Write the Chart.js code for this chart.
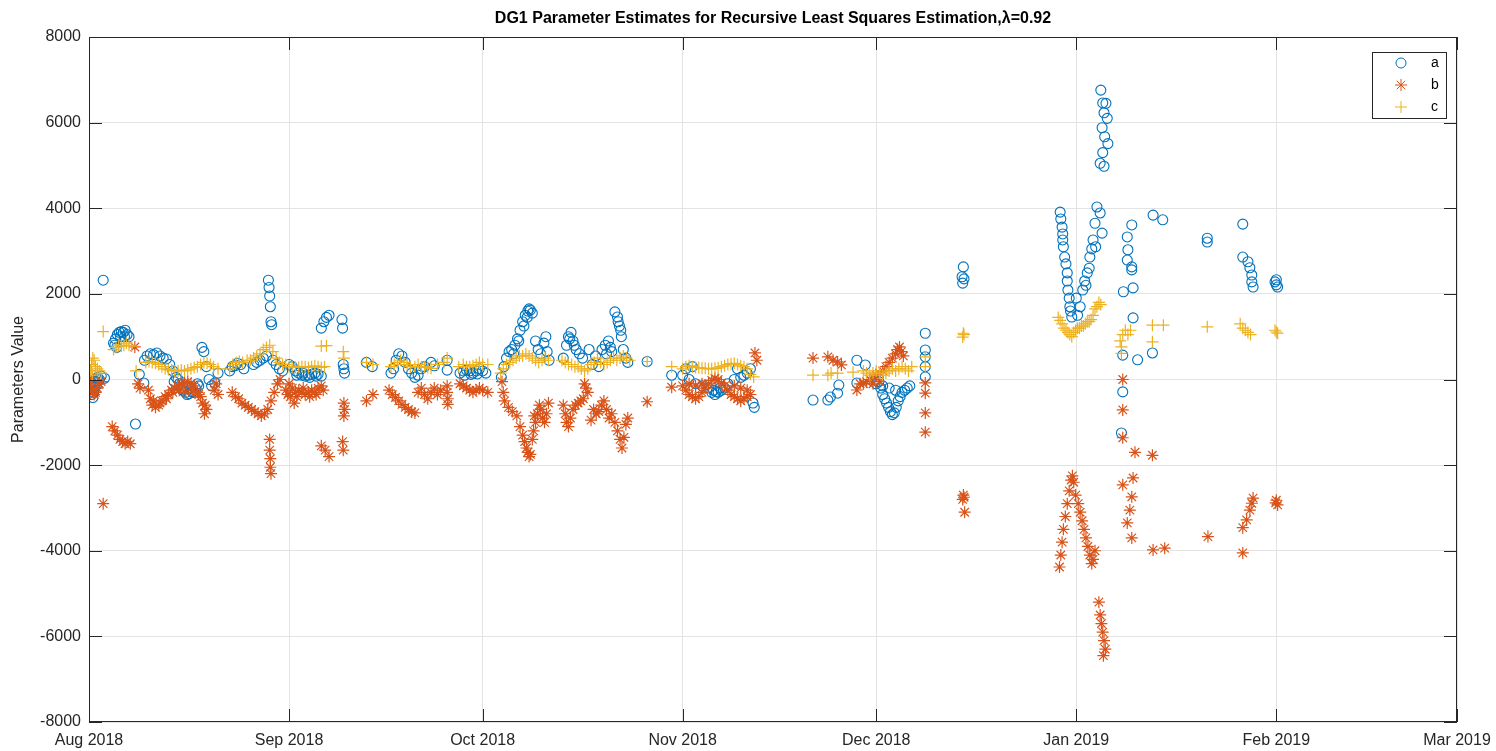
<!DOCTYPE html>
<html lang="en">
<head>
    <meta charset="UTF-8" />
    <title>DG1 Parameter Estimates</title>
    <script src="https://cdn.jsdelivr.net/npm/chart.js"></script>
    <style>
        body { margin: 0; background: #fff; }
        #rlsChart { display: block; }
    </style>
</head>
<body>
<canvas id="rlsChart" width="1496" height="751"></canvas>

<script>
    // x values are days since 1 Aug 2018
    const monthTicks = [0, 31, 61, 92, 122, 153, 184, 212];
    const monthLabels = ['Aug 2018', 'Sep 2018', 'Oct 2018', 'Nov 2018', 'Dec 2018', 'Jan 2019', 'Feb 2019', 'Mar 2019'];

    // [day, value]
    const seriesA = [
        [0.2,-150],[0.4,-350],[0.6,-420],[0.8,-250],[1.0,-50],[1.3,50],[1.6,0],[1.9,80],[2.2,2320],[2.4,30],
        [0.3,-50],[0.7,-300],[1.1,-150],[1.5,-30],
        [3.8,850],[4.1,950],[4.4,1050],[4.7,1100],[5.0,1120],[5.3,1100],[5.6,1150],[5.9,1050],[6.2,1000],[4.3,750],
        [4.0,800],[4.9,1000],[5.5,1000],
        [7.2,-1040],[7.8,120],[8.5,-80],
        [8.6,450],[9.0,550],[9.5,600],[10.0,580],[10.5,620],[11.0,550],[11.5,500],[12.0,480],
        [12.5,350],[13.0,200],[13.5,50],[14.0,-100],[14.5,-250],[15.0,-300],[15.5,-330],[16.0,-280],[16.5,-200],[17.0,-150],
        [13.2,-50],[13.8,0],[14.2,-200],[15.2,-350],[15.8,-200],[16.2,-300],[16.8,-100],
        [17.5,750],[17.8,650],[18.2,300],[18.6,0],[19.0,-150],[19.5,-80],[20.0,150],
        [21.8,200],[22.2,300],[22.6,320],[23.0,380],[23.5,350],[24.0,250],
        [25.5,350],[26.0,400],[26.5,450],[27.0,500],[27.5,550],[27.8,2320],[27.9,2150],[28.0,1950],[28.1,1700],[28.2,1350],[28.3,1280],
        [28.5,450],[29.0,350],[29.5,250],[30.0,200],
        [31.0,350],[31.5,300],[32.0,200],[32.5,150],[33.0,100],[33.5,80],[34.0,100],[34.5,120],[35.0,150],[35.5,120],[36.0,80],
        [32.2,100],[33.2,150],[34.2,50],[35.2,80],
        [36.0,1200],[36.4,1350],[36.8,1450],[37.2,1500],[39.2,1400],[39.3,1200],
        [39.4,350],[39.5,250],[39.6,150],[43.0,400],[43.9,300],
        [46.8,150],[47.2,250],[47.6,450],[48.0,600],[48.5,550],[49.0,400],[49.5,250],[50.0,150],[50.5,50],[51.0,100],
        [51.5,250],[52.0,300],[53.0,400],[53.5,320],[55.5,450],[55.5,220],
        [57.5,150],[58.0,200],[58.5,220],[59.0,200],[59.5,150],[60.0,200],[60.5,250],[61.0,200],[61.5,150],
        [58.2,100],[59.2,120],[60.2,130],
        [63.9,50],[64.3,300],[64.7,500],[65.1,650],[65.5,700],[66.0,800],[66.4,950],[66.8,1150],[67.2,1350],[67.6,1500],
        [68.0,1600],[68.4,1620],[68.7,1550],[69.2,900],[69.6,700],[70.0,600],[70.5,850],[70.8,1000],[71.0,650],[71.3,450],
        [65.8,600],[66.6,900],[67.4,1250],[67.9,1450],[68.2,1650],
        [73.5,500],[74.0,800],[74.3,1000],[74.7,1100],[75.0,900],[75.5,700],[76.0,600],[76.5,500],[77.5,700],[78.5,550],
        [79.5,700],[80.0,800],[80.5,900],[81.0,650],[81.5,1580],[81.9,1460],[82.2,1250],[82.5,1000],[82.8,700],[83.2,500],
        [83.5,400],[79.0,300],[78.0,350],[86.5,420],
        [74.5,950],[75.2,800],[80.2,600],[80.8,750],[82.0,1350],[82.4,1150],
        [90.3,100],[92.0,100],[92.5,250],[93.0,0],[93.5,300],[94.0,-100],[95.0,-150],[96.0,-200],[96.5,-300],[97.0,-350],
        [97.5,-300],[98.0,-250],[98.5,-200],[99.0,-100],[100.0,0],[100.5,250],[101.0,50],[101.5,100],[102.0,150],[102.5,250],
        [96.8,-250],[97.2,-280],[97.8,-200],
        [102.9,-550],[103.1,-650],
        [112.2,-480],[114.5,-480],[114.9,-410],[116.0,-320],[116.2,-130],[119.0,450],[119.0,-80],[120.3,340],
        [122.0,-100],[122.4,-50],[122.7,-200],[123.0,-350],[123.3,-450],[123.6,-550],[123.9,-650],[124.2,-750],[124.5,-820],
        [124.8,-780],[125.1,-650],[125.4,-500],[125.7,-400],[126.0,-300],[126.4,-250],[126.8,-200],[127.2,-150],
        [123.0,-150],[124.0,-200],[125.0,-250],
        [129.6,1080],[129.6,690],[129.6,530],[129.6,300],[129.6,60],
        [135.5,2630],[135.3,2400],[135.4,2250],[135.6,2350],
        [150.5,3910],[150.8,3560],[150.9,3260],[151.2,2860],[151.6,2490],[151.7,2090],[152.0,1700],[152.3,1460],
        [150.6,3750],[150.9,3400],[151.0,3100],[151.4,2700],[151.6,2300],[151.9,1900],[152.1,1600],
        [153.2,1500],[153.6,1700],[154.0,2090],[154.3,2300],[154.7,2490],[155.1,2860],[155.4,3050],[155.6,3260],
        [155.9,3650],[156.2,4030],[156.7,3890],[157.0,3420],[153.0,1900],[154.5,2200],[155.0,2600],[156.0,3100],
        [156.8,6760],[157.1,6460],[157.6,6450],[157.3,6230],[157.8,6100],[157.0,5880],[157.4,5670],[157.9,5510],
        [157.1,5300],[156.7,5050],[157.3,4980],
        [161.6,3610],[160.9,3330],[161.0,3030],[160.9,2790],[161.6,2630],[161.6,2560],[160.3,2050],[161.8,2140],[161.8,1440],
        [164.9,3840],[166.4,3730],
        [160.2,570],[162.5,460],[164.8,620],[160.2,-290],[160.0,-1250],
        [173.3,3300],[173.3,3210],[178.8,3630],[178.8,2860],[179.6,2750],[179.9,2610],[180.2,2440],[180.2,2280],[180.4,2160],
        [184.0,2330],[184.0,2210],[184.2,2160],[183.8,2280]
    ];

    const seriesB = [
        [0.2,-100],[0.4,-200],[0.6,-300],[0.8,-350],[1.0,-300],[1.3,-200],[1.6,-100],[1.9,-50],[0.5,50],[2.2,-2900],
        [3.6,-1100],[4.0,-1200],[4.4,-1300],[4.8,-1400],[5.2,-1450],[5.6,-1500],[6.0,-1450],[6.4,-1500],[7.1,760],
        [7.6,-100],[7.9,-200],
        [9.2,-250],[9.5,-450],[9.8,-600],[10.3,-650],[10.8,-600],[11.3,-500],[11.8,-400],[12.3,-350],[12.8,-250],[13.3,-200],
        [13.8,-150],[14.3,-100],[14.8,-80],[15.3,-50],[15.8,-100],[16.3,-150],[16.8,-300],[17.3,-400],[17.6,-550],[17.9,-800],
        [18.2,-700],[19.4,-250],[19.7,-100],[20.0,-350],[14.0,-250],[15.0,-300],
        [10.0,-500],[11.0,-550],[12.0,-450],[13.0,-300],[16.0,-250],[17.0,-350],[18.0,-600],
        [22.2,-300],[22.7,-400],[23.2,-450],[23.7,-550],[24.2,-600],[24.7,-650],[25.2,-700],[25.7,-750],[26.2,-800],[26.7,-850],
        [27.2,-800],[27.7,-700],[28.2,-500],[28.7,-300],[29.2,-100],[29.6,0],
        [28.0,-1400],[28.0,-1650],[28.1,-1850],[28.1,-2050],[28.2,-2200],
        [30.5,-250],[31.0,-100],[31.2,-400],[31.5,-200],[31.8,-550],[32.0,-300],[32.5,-250],[33.0,-300],[33.5,-350],[34.0,-300],
        [34.5,-250],[35.0,-300],[35.5,-200],[36.0,-150],
        [30.8,-350],[32.2,-400],[33.2,-200],[34.2,-400],[35.2,-350],[36.3,-250],
        [36.0,-1550],[36.6,-1650],[37.2,-1800],
        [39.3,-1450],[39.4,-1650],[39.5,-550],[39.6,-700],[39.5,-850],[43.0,-500],[44.0,-350],
        [46.5,-250],[47.0,-350],[47.5,-420],[48.0,-500],[48.5,-580],[49.0,-650],[49.5,-700],[50.0,-760],[50.5,-780],
        [51.0,-300],[51.5,-200],[52.0,-350],[52.5,-450],[53.0,-300],[53.5,-200],[54.0,-350],[54.5,-250],
        [55.5,-150],[55.5,-300],[55.6,-450],[55.6,-580],
        [57.5,-100],[58.0,-150],[58.5,-200],[59.0,-250],[59.5,-300],[60.0,-250],[60.5,-200],[61.0,-250],[61.8,-300],
        [64.0,-50],[64.2,-300],[64.4,-500],[65.0,-650],[65.6,-750],[66.3,-850],[66.8,-1100],[67.2,-1300],[67.5,-1450],
        [67.8,-1600],[68.0,-1700],[68.2,-1800],[68.4,-1750],[68.7,-1400],[68.9,-1200],[69.2,-1000],[69.5,-800],[69.8,-600],
        [70.0,-700],[70.3,-900],[70.6,-1000],[70.9,-800],[71.2,-550],[69.0,-850],
        [73.5,-600],[73.8,-800],[74.0,-1000],[74.3,-1100],[74.6,-900],[75.0,-700],[75.4,-600],[75.8,-550],[76.2,-500],
        [76.6,-450],[76.8,-100],[77.0,-200],[77.3,-300],
        [77.8,-950],[78.2,-700],[78.6,-800],[79.0,-750],[79.4,-600],[79.8,-500],[80.2,-700],[80.6,-900],[81.0,-800],
        [81.5,-1000],[81.9,-1200],[82.3,-1400],[82.6,-1600],[82.9,-1350],[83.2,-1050],[83.5,-900],
        [86.5,-520],[90.3,-180],
        [92.0,-150],[92.5,-250],[93.0,-350],[93.5,-400],[94.0,-450],[94.5,-400],[95.0,-300],[95.5,-200],[96.0,-100],
        [96.5,-20],[97.0,30],[97.5,0],[98.0,-80],[98.5,-150],[99.0,-250],[99.5,-350],[100.0,-400],[100.5,-450],
        [101.0,-500],[101.5,-450],[102.0,-400],[102.5,-350],[93.0,-100],[94.0,-150],[95.0,-100],[100.0,-150],
        [101.0,-200],[102.0,-250],[103.2,620],[103.5,450],
        [112.2,500],[114.5,530],[115.3,450],[116.0,410],[116.6,340],[119.0,-245],[119.5,-100],
        [120.0,-100],[120.5,-50],[121.0,0],[121.5,50],[122.0,100],[122.5,150],[123.0,200],[123.5,300],[124.0,400],
        [124.5,500],[125.0,600],[125.3,700],[125.6,760],[125.9,650],[126.2,550],[121.5,-100],[122.5,-50],
        [129.6,-80],[129.6,-320],[129.6,-780],[129.6,-1230],
        [135.4,-2800],[135.5,-2700],[135.6,-2750],[135.7,-3100],
        [150.4,-4380],[150.6,-4100],[150.8,-3800],[151.0,-3500],[151.3,-3200],[151.6,-2900],[151.9,-2600],[152.2,-2350],
        [152.4,-2250],[152.6,-2400],[152.9,-2700],
        [153.3,-2900],[153.6,-3100],[153.9,-3300],[154.2,-3500],[154.5,-3700],[154.8,-3900],[155.1,-4100],[155.4,-4300],
        [155.6,-4200],[155.9,-4000],
        [156.5,-5200],[156.7,-5500],[156.9,-5700],[157.1,-5900],[157.3,-6100],[157.5,-6300],[157.2,-6450],
        [160.2,0],[160.2,-710],[160.2,-1360],[162.1,-1700],[164.8,-1770],[160.2,-2460],[161.8,-2300],[161.6,-2740],
        [161.3,-3050],[160.9,-3350],[161.6,-3700],[164.9,-3980],[166.7,-3940],
        [173.4,-3670],[178.8,-4050],[178.8,-3460],[179.4,-3280],[179.9,-3050],[180.2,-2890],[180.4,-2770],
        [184.0,-2820],[184.2,-2930],[183.9,-2880]
    ];

    const seriesC = [
        [0.2,200],[0.4,350],[0.6,500],[0.8,450],[1.0,300],[1.3,250],[1.6,200],[1.9,150],[0.5,100],[2.2,1120],
        [3.8,700],[4.2,750],[4.6,800],[5.0,780],[5.4,800],[5.8,850],[6.2,800],[6.6,780],[7.3,200],
        [8.8,400],[9.3,420],[9.8,400],[10.3,380],[10.8,350],[11.3,300],[11.8,250],[12.3,230],[12.8,220],[13.3,200],
        [13.8,200],[14.3,220],[14.8,200],[15.3,220],[15.8,250],[16.3,280],[16.8,300],[17.3,350],[17.8,400],[18.3,380],
        [18.8,350],[19.3,300],[20.0,250],
        [21.8,250],[22.3,350],[22.8,400],[23.3,420],[23.8,400],[24.5,450],[25.0,450],[25.5,500],[26.0,550],[26.5,600],
        [27.0,700],[27.5,750],[28.0,800],[28.5,650],[29.0,500],[29.5,400],[30.0,350],[30.5,350],
        [31.0,300],[31.5,300],[32.0,280],[32.5,280],[33.0,300],[33.5,300],[34.0,280],[34.5,300],[35.0,320],[35.5,300],
        [36.0,280],[36.5,300],[36.0,780],[36.8,790],[39.4,650],[39.5,500],[43.0,400],[44.0,350],
        [46.8,300],[47.3,350],[47.8,400],[48.3,450],[48.8,400],[49.3,350],[49.8,300],[50.5,300],[51.0,350],[51.5,300],
        [52.0,300],[52.5,280],[53.0,260],[54.0,350],[55.0,400],[55.5,500],
        [57.3,300],[58.0,350],[58.5,300],[59.0,300],[59.5,320],[60.0,350],[60.5,400],[61.0,350],[61.8,350],
        [63.8,150],[64.2,250],[64.7,350],[65.2,400],[65.7,450],[66.2,500],[66.7,550],[67.2,550],[67.7,600],[68.2,550],
        [68.7,500],[69.2,450],[69.7,400],[70.2,450],[70.7,500],[71.2,450],
        [73.3,450],[73.8,400],[74.3,350],[74.8,350],[75.3,300],[75.8,300],[76.3,250],[76.8,200],[77.3,250],[77.8,350],
        [78.3,400],[78.8,500],[79.3,400],[79.8,350],[80.3,400],[80.8,450],[81.3,500],[81.8,450],[82.3,500],[82.8,550],
        [83.3,500],[83.8,450],[86.5,420],[90.3,300],
        [92.0,250],[92.5,300],[93.0,320],[93.5,300],[94.0,280],[94.5,280],[95.0,260],[95.5,260],[96.0,250],[96.5,250],
        [97.0,260],[97.5,270],[98.0,300],[98.5,320],[99.0,350],[99.5,370],[100.0,380],[100.5,350],[101.0,320],[101.5,300],
        [102.0,250],[102.5,120],[103.0,60],
        [112.2,100],[114.5,100],[115.0,150],[116.0,150],[118.4,170],[120.0,200],[120.5,150],[121.0,100],[121.5,150],
        [122.0,200],[122.5,150],[123.0,100],[123.5,150],[124.0,200],[124.5,250],[125.0,200],[125.5,250],[126.0,300],
        [126.5,250],[127.0,200],[127.5,300],[129.6,530],[129.6,300],
        [135.5,1080],[135.4,990],[135.6,1050],
        [150.2,1450],[150.5,1380],[150.8,1300],[151.1,1200],[151.4,1150],[151.7,1100],[152.0,1050],[152.3,1000],
        [152.6,1100],[152.9,1150],[153.2,1200],[153.5,1200],[153.8,1250],[154.1,1250],[154.4,1300],[154.7,1350],
        [155.0,1350],[155.3,1400],[155.6,1500],[155.9,1650],[156.2,1700],[156.5,1800],[156.8,1750],
        [159.8,900],[160.2,1050],[160.6,1150],[161.0,1050],[161.4,1150],[160.0,610],[160.0,760],[164.8,1270],[166.5,1270],
        [164.8,880],
        [173.3,1230],[178.4,1300],[178.8,1200],[179.2,1150],[179.6,1100],[180.0,1050],[184.0,1110],[183.8,1150],[184.2,1080]
    ];

    const COLOR_A = '#0072BD';
    const COLOR_B = '#D95319';
    const COLOR_C = '#EDB120';
    const AXIS_COLOR = '#262626';
    const FONT = '"Liberation Sans", Arial, Helvetica, sans-serif';

    const toPoints = arr => arr.map(p => ({ x: p[0], y: p[1] }));

    // box, inward ticks, title, y label and legend, MATLAB style
    const matlabAxes = {
        id: 'matlabAxes',
        afterDraw(chart) {
            const { ctx, chartArea: area, scales } = chart;
            ctx.save();
            ctx.strokeStyle = AXIS_COLOR;
            ctx.lineWidth = 1;
            ctx.strokeRect(area.left + 0.5, area.top + 0.5, area.right - area.left - 1, area.bottom - area.top - 1);

            const tickLen = 13;
            ctx.beginPath();
            scales.x.ticks.forEach(t => {
                const px = Math.round(scales.x.getPixelForValue(t.value)) + 0.5;
                ctx.moveTo(px, area.bottom); ctx.lineTo(px, area.bottom - tickLen);
                ctx.moveTo(px, area.top); ctx.lineTo(px, area.top + tickLen);
            });
            scales.y.ticks.forEach(t => {
                const py = Math.round(scales.y.getPixelForValue(t.value)) + 0.5;
                ctx.moveTo(area.left, py); ctx.lineTo(area.left + tickLen, py);
                ctx.moveTo(area.right, py); ctx.lineTo(area.right - tickLen, py);
            });
            ctx.stroke();

            // title
            ctx.fillStyle = '#000';
            ctx.font = 'bold 16px ' + FONT;
            ctx.textAlign = 'center';
            ctx.textBaseline = 'middle';
            ctx.fillText('DG1 Parameter Estimates for Recursive Least Squares Estimation,\u03bb=0.92',
                (area.left + area.right) / 2, 19);

            // y axis label
            ctx.save();
            ctx.translate(19, (area.top + area.bottom) / 2);
            ctx.rotate(-Math.PI / 2);
            ctx.fillStyle = AXIS_COLOR;
            ctx.font = '16px ' + FONT;
            ctx.fillText('Parameters Value', 0, 0);
            ctx.restore();

            // legend
            const lx = 1372, ly = 52, lw = 74, lh = 66;
            ctx.fillStyle = '#fff';
            ctx.fillRect(lx, ly, lw, lh);
            ctx.strokeStyle = AXIS_COLOR;
            ctx.strokeRect(lx + 0.5, ly + 0.5, lw, lh);
            const entries = [
                { label: 'a', style: 'circle', color: COLOR_A, r: 5 },
                { label: 'b', style: 'star', color: COLOR_B, r: 6 },
                { label: 'c', style: 'cross', color: COLOR_C, r: 6 }
            ];
            entries.forEach((e, i) => {
                const y = ly + 11 + i * 22;
                ctx.strokeStyle = e.color;
                ctx.fillStyle = 'rgba(0,0,0,0)';
                Chart.helpers.drawPoint(ctx, { pointStyle: e.style, radius: e.r, borderWidth: 1, rotation: 0 }, lx + 29, y);
                ctx.fillStyle = '#000';
                ctx.font = '14px ' + FONT;
                ctx.textAlign = 'left';
                ctx.fillText(e.label, lx + 59, y);
            });
            ctx.restore();
        }
    };

    const ctx = document.getElementById('rlsChart').getContext('2d');
    const chart = new Chart(ctx, {
        type: 'scatter',
        data: {
            datasets: [
                {
                    label: 'a',
                    data: toPoints(seriesA),
                    pointStyle: 'circle',
                    pointRadius: 5,
                    borderWidth: 1.1,
                    borderColor: COLOR_A,
                    backgroundColor: 'rgba(0,0,0,0)',
                    order: 3
                },
                {
                    label: 'b',
                    data: toPoints(seriesB),
                    pointStyle: 'star',
                    pointRadius: 6,
                    borderWidth: 1.2,
                    borderColor: COLOR_B,
                    backgroundColor: 'rgba(0,0,0,0)',
                    order: 2
                },
                {
                    label: 'c',
                    data: toPoints(seriesC),
                    pointStyle: 'cross',
                    pointRadius: 6,
                    borderWidth: 1.2,
                    borderColor: COLOR_C,
                    backgroundColor: 'rgba(0,0,0,0)',
                    order: 1
                }
            ]
        },
        options: {
            responsive: false,
            animation: false,
            layout: { padding: { top: 37, right: 39, left: 0, bottom: 0 } },
            plugins: {
                legend: { display: false },
                tooltip: { enabled: false }
            },
            scales: {
                x: {
                    type: 'linear',
                    min: 0,
                    max: 212,
                    afterBuildTicks: scale => { scale.ticks = monthTicks.map(v => ({ value: v })); },
                    afterFit: scale => {
                        scale.height = 29;
                        scale.paddingLeft = 0;
                        scale.paddingRight = 0;
                    },
                    grid: { color: '#e3e3e3', drawTicks: false },
                    border: { display: false },
                    ticks: {
                        autoSkip: false,
                        maxRotation: 0,
                        padding: 9,
                        color: AXIS_COLOR,
                        font: { size: 16, family: FONT },
                        callback: (value, index) => monthLabels[index]
                    }
                },
                y: {
                    min: -8000,
                    max: 8000,
                    afterFit: scale => {
                        scale.width = 89;
                        scale.paddingTop = 0;
                        scale.paddingBottom = 0;
                    },
                    grid: { color: '#e3e3e3', drawTicks: false },
                    border: { display: false },
                    ticks: {
                        stepSize: 2000,
                        padding: 8,
                        color: AXIS_COLOR,
                        font: { size: 16, family: FONT },
                        callback: value => String(value)
                    }
                }
            }
        },
        plugins: [matlabAxes]
    });
</script>
</body>
</html>
